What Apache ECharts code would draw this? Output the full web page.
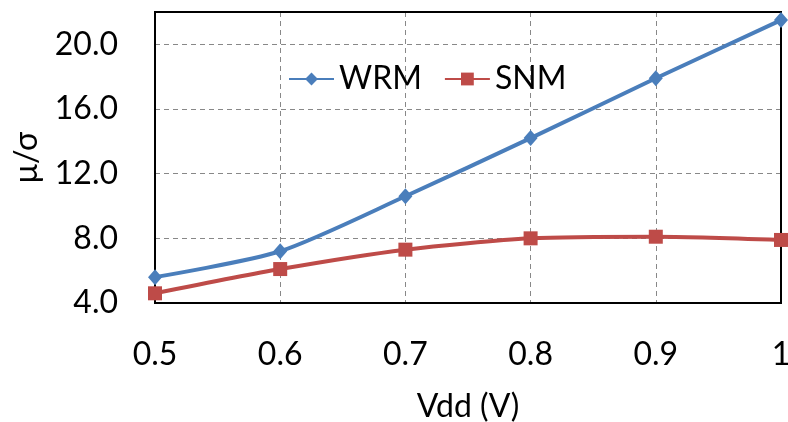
<!DOCTYPE html>
<html>
<head>
<meta charset="utf-8">
<script src="https://cdn.jsdelivr.net/npm/echarts@6/dist/echarts.min.js"></script>
<style>
    html, body { margin: 0; padding: 0; background: #fff; }
    #chart { width: 788px; height: 422px; }
</style>
</head>
<body>
<div id="chart"></div>
<script>
    // values
    var vdd = ['0.5', '0.6', '0.7', '0.8', '0.9', '1'];
    var wrm = [5.6, 7.2, 10.6, 14.2, 17.9, 21.5];
    var snm = [4.6, 6.1, 7.3, 8.0, 8.1, 7.9];

    var font = 'Lato';
    var gridLine = { show: true, lineStyle: { color: '#888', type: [5, 4], width: 1 } };
    var myChart = echarts.init(document.getElementById('chart'), null, { renderer: 'canvas' });

    myChart.setOption({
        backgroundColor: '#fff',
        animation: false,
        textStyle: { fontFamily: font },
        grid: {
            left: 155, right: 7, top: 12, bottom: 119,
            outerBoundsMode: 'none',
            containLabel: false,
            show: true, borderColor: '#000', borderWidth: 2
        },
        legend: {
            left: 283, top: 58,
            itemWidth: 45, itemHeight: 16, itemGap: 22,
            textStyle: { fontFamily: font, fontSize: 32, color: '#000' },
            data: ['WRM', 'SNM']
        },
        xAxis: [{
            type: 'category',
            data: vdd,
            boundaryGap: false,
            name: 'Vdd (V)',
            nameLocation: 'middle',
            nameGap: 88,
            nameTextStyle: { fontFamily: font, fontSize: 32, color: '#000' },
            axisLine: { lineStyle: { color: '#000', width: 2 } },
            axisTick: { show: false },
            axisLabel: { margin: 36, fontSize: 32, color: '#000', fontFamily: font },
            splitLine: gridLine
        }, {
            // top frame line
            type: 'category',
            data: vdd,
            boundaryGap: false,
            position: 'top',
            axisLine: { show: true, lineStyle: { color: '#000', width: 2 } },
            axisTick: { show: false },
            axisLabel: { show: false },
            splitLine: { show: false }
        }],
        yAxis: [{
            type: 'value',
            min: 4, max: 22, interval: 4,
            name: 'μ/σ',
            nameLocation: 'middle',
            nameGap: 112,
            nameTextStyle: { fontFamily: font, fontSize: 32, color: '#000' },
            axisLine: { show: true, lineStyle: { color: '#000', width: 2 } },
            axisTick: { show: false },
            axisLabel: {
                margin: 37, fontSize: 32, color: '#000', fontFamily: font,
                showMaxLabel: false,
                formatter: function (v) { return v.toFixed(1); }
            },
            splitLine: gridLine
        }, {
            // right frame line
            type: 'value',
            min: 4, max: 22, interval: 4,
            position: 'right',
            axisLine: { show: true, lineStyle: { color: '#000', width: 2 } },
            axisTick: { show: false },
            axisLabel: { show: false },
            splitLine: { show: false }
        }],
        series: [{
            name: 'WRM',
            type: 'line',
            smooth: 0.25,
            data: wrm,
            symbol: 'diamond',
            symbolSize: [14, 16],
            itemStyle: { color: '#4a7ebb' },
            lineStyle: { color: '#4a7ebb', width: 4 },
            z: 3
        }, {
            name: 'SNM',
            type: 'line',
            smooth: 0.25,
            data: snm,
            symbol: 'rect',
            symbolSize: 14,
            itemStyle: { color: '#be4b48' },
            lineStyle: { color: '#be4b48', width: 4 },
            z: 2
        }]
    });
</script>
</body>
</html>
